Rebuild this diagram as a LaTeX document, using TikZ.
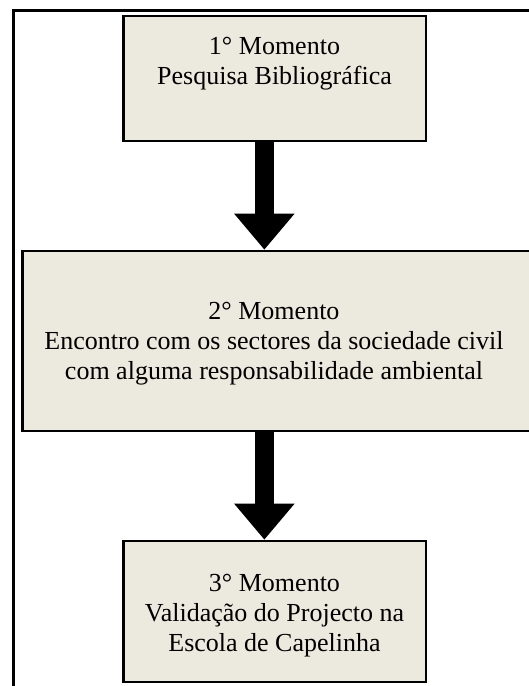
\documentclass[tikz,border=0pt]{standalone}
\usepackage{fontspec}
\setmainfont{Liberation Serif}
\usetikzlibrary{arrows.meta}
\definecolor{boxfill}{HTML}{ECE9DF}
\begin{document}
\begin{tikzpicture}[x=1pt,y=-1pt,
  stepbox/.style={draw=black, line width=2.6pt, fill=boxfill, rectangle, inner sep=0pt},
  txt/.style={align=center, inner sep=0pt, anchor=north, font=\fontsize{26}{30}\selectfont},
  bigarrow/.style={line width=19pt, -{Triangle[width=58pt,length=36pt]}}]
\useasboundingbox (0,0) rectangle (528,686);
\fill[white] (0,0) rectangle (528,686);
\draw[line width=2.5pt] (13.5,700) -- (13.5,10.5) -- (545,10.5);
\node[stepbox, minimum width=302.5pt, minimum height=125pt] (b1) at (274.75,78.5) {};
\node[stepbox, minimum width=517.5pt, minimum height=180pt] (b2) at (281.25,341) {};
\node[stepbox, minimum width=302.5pt, minimum height=141pt] (b3) at (274.75,611.5) {};
\node[txt] (t1) at (274.5,37.4) {1° Momento\\Pesquisa Bibliográfica};
\node[txt] (t2) at (274,302.4) {2° Momento\\Encontro com os sectores da sociedade civil\\com alguma responsabilidade ambiental};
\node[txt] (t3) at (274.5,574.4) {3° Momento\\Validação do Projecto na\\Escola de Capelinha};
\draw[bigarrow] ([xshift=-10.4pt]b1.south) -- ([xshift=-10.4pt]b1.south |- b2.north);
\draw[bigarrow] ([xshift=-10.4pt]b2.south -| b1.south) -- ([xshift=-10.4pt]b3.north);
\end{tikzpicture}
\end{document}
